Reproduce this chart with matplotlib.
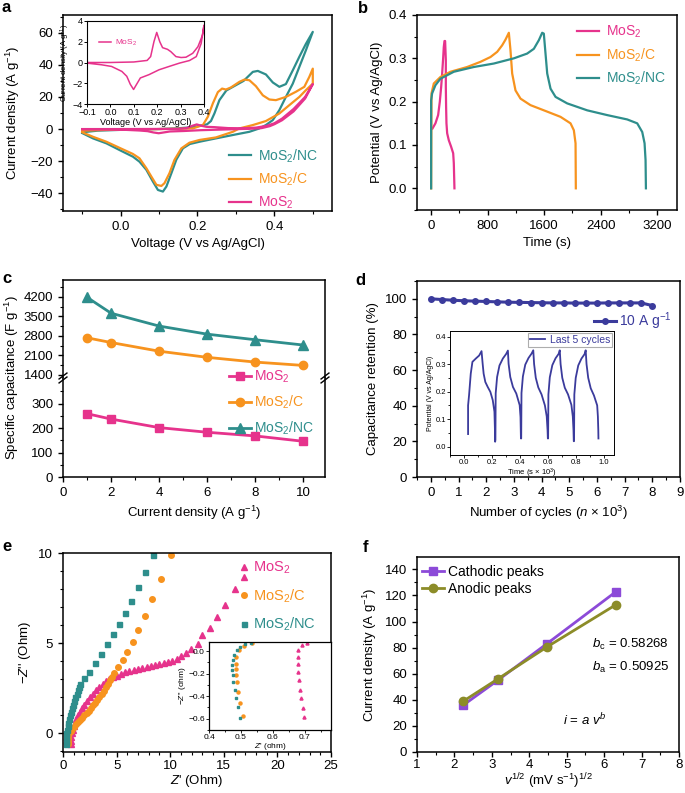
import matplotlib
matplotlib.use('Agg')
import matplotlib.pyplot as plt
from matplotlib.ticker import MultipleLocator, FixedLocator

plt.rcParams['font.family'] = ['Liberation Sans', 'DejaVu Sans']
plt.rcParams['mathtext.fontset'] = 'custom'
plt.rcParams['mathtext.rm'] = 'Liberation Sans'
plt.rcParams['mathtext.it'] = 'Liberation Sans:italic'
plt.rcParams['mathtext.bf'] = 'Liberation Sans:bold'
plt.rcParams['axes.linewidth'] = 1.1
plt.rcParams['xtick.major.size'] = 3.5
plt.rcParams['ytick.major.size'] = 3.5
plt.rcParams['xtick.minor.size'] = 2.0
plt.rcParams['ytick.minor.size'] = 2.0
plt.rcParams['xtick.major.width'] = 1.0
plt.rcParams['ytick.major.width'] = 1.0
plt.rcParams['xtick.minor.width'] = 0.8
plt.rcParams['ytick.minor.width'] = 0.8
plt.rcParams['xtick.labelsize'] = 9.5
plt.rcParams['ytick.labelsize'] = 9.5
plt.rcParams['axes.labelsize'] = 9.5

MAG = '#e6338c'
ORA = '#f7931e'
TEA = '#2e8e8c'
NAVY = '#3b3b9c'
PUR = '#8c4ad8'
OLI = '#8c8c28'

# ---------------- panel a: CV curves ----------------
cv_nc_an_v = [-0.10, -0.06, 0.0, 0.10, 0.15, 0.19, 0.205, 0.225, 0.235, 0.244, 0.257, 0.275, 0.29, 0.32, 0.344, 0.357, 0.378, 0.396, 0.413, 0.43, 0.448, 0.465, 0.482, 0.50]
cv_nc_an_i = [-2.0, -1.0, -0.5, 0.0, 0.5, 1.2, 2.0, 3.0, 5.0, 9.7, 18, 24, 26, 30, 35.6, 36.2, 34, 29, 26.3, 28, 36.6, 45, 53, 60.5]
cv_nc_ca_v = [0.50, 0.482, 0.465, 0.448, 0.43, 0.413, 0.396, 0.378, 0.361, 0.335, 0.292, 0.248, 0.205, 0.18, 0.162, 0.145, 0.132, 0.119, 0.11, 0.097, 0.084, 0.067, 0.049, 0.032, 0.0, -0.037, -0.072, -0.10]
cv_nc_ca_i = [60.5, 49, 38.7, 28.3, 20, 11.8, 5.6, 2.5, 0.4, -1.7, -3.7, -5.8, -7.9, -9.3, -12, -19, -27.5, -35.8, -38.9, -37.9, -32.7, -25.4, -20.3, -17.2, -13.4, -8.9, -5.8, -2.5]

cv_c_an_v = [-0.10, -0.05, 0.05, 0.15, 0.188, 0.214, 0.227, 0.24, 0.253, 0.264, 0.274, 0.287, 0.309, 0.322, 0.335, 0.352, 0.37, 0.387, 0.404, 0.43, 0.456, 0.478, 0.491, 0.50]
cv_c_an_i = [-1.0, -0.6, -0.2, 0.2, 0.4, 2.5, 7.7, 16, 23, 25.2, 24.6, 25.9, 29.4, 30.8, 30.4, 26.7, 21, 18.4, 18, 20, 23.2, 26.3, 32.5, 37.6]
cv_c_ca_v = [0.50, 0.50, 0.482, 0.465, 0.439, 0.413, 0.378, 0.344, 0.309, 0.292, 0.248, 0.205, 0.179, 0.158, 0.14, 0.127, 0.114, 0.106, 0.093, 0.08, 0.067, 0.049, 0.032, 0.0, -0.037, -0.072, -0.10]
cv_c_ca_i = [37.6, 28.3, 24.2, 20, 14.9, 9.7, 5.0, 2.5, 0.4, -1.7, -5.2, -6.8, -8.5, -12, -19.2, -27.5, -33.7, -35.4, -34.7, -29.6, -24.4, -18.2, -15.5, -12, -7.9, -4.8, -2.0]

cv_m_an_v = [-0.10, 0.0, 0.15, 0.172, 0.186, 0.198, 0.211, 0.223, 0.244, 0.28, 0.32, 0.352, 0.38, 0.40, 0.42, 0.45, 0.48, 0.50]
cv_m_an_i = [0.0, 0.0, 0.1, 0.6, 2.0, 2.9, 2.0, 1.4, 1.2, 0.6, 0.5, 0.9, 2.0, 3.6, 6.5, 12.5, 20, 28]
cv_m_ca_v = [0.50, 0.48, 0.45, 0.42, 0.40, 0.388, 0.367, 0.338, 0.295, 0.251, 0.208, 0.165, 0.128, 0.107, 0.099, 0.085, 0.07, 0.049, 0.005, -0.038, -0.10]
cv_m_ca_i = [28, 19, 11, 5.5, 3.0, 1.8, 0.6, 0.2, -0.1, -0.4, -0.7, -1.2, -1.5, -2.3, -2.6, -2.1, -1.3, -0.9, -0.4, -0.2, -0.1]

ins_a_an_v = [-0.10, 0.0, 0.1, 0.157, 0.172, 0.186, 0.198, 0.211, 0.223, 0.244, 0.258, 0.28, 0.302, 0.323, 0.352, 0.374, 0.393, 0.40]
ins_a_an_i = [0.0, 0.0, 0.05, 0.2, 0.57, 2.0, 2.9, 2.0, 1.43, 1.27, 1.05, 0.57, 0.48, 0.51, 0.89, 1.52, 2.6, 3.6]
ins_a_ca_v = [0.40, 0.388, 0.367, 0.338, 0.295, 0.251, 0.208, 0.165, 0.128, 0.107, 0.099, 0.085, 0.07, 0.049, 0.005, -0.038, -0.10]
ins_a_ca_i = [3.6, 1.84, 0.57, 0.19, -0.06, -0.38, -0.7, -1.17, -1.49, -2.29, -2.6, -2.1, -1.33, -0.86, -0.38, -0.22, -0.06]

# ---------------- panel b: GCD ----------------
gcd_m_t = [19, 61, 99, 123, 142, 156, 170, 179, 189, 198, 208, 208, 212, 217, 227, 250, 283, 312, 321, 330]
gcd_m_v = [0.138, 0.15, 0.169, 0.2, 0.234, 0.265, 0.3, 0.326, 0.34, 0.34, 0.296, 0.234, 0.188, 0.15, 0.127, 0.111, 0.096, 0.081, 0.058, 0.0]
gcd_c_t = [0, 5, 38, 132, 274, 510, 699, 840, 935, 1005, 1052, 1100, 1123, 1147, 1194, 1265, 1406, 1643, 1831, 1973, 2020, 2044, 2048]
gcd_c_v = [0, 0.219, 0.242, 0.257, 0.269, 0.28, 0.292, 0.303, 0.315, 0.33, 0.343, 0.359, 0.319, 0.265, 0.226, 0.207, 0.192, 0.177, 0.165, 0.15, 0.134, 0.104, 0]
gcd_nc_t = [0, 0, 14, 61, 132, 321, 604, 887, 1171, 1359, 1454, 1525, 1572, 1595, 1619, 1643, 1690, 1761, 1926, 2209, 2492, 2775, 2917, 2988, 3021, 3035, 3040]
gcd_nc_v = [0, 0.203, 0.219, 0.238, 0.253, 0.269, 0.28, 0.288, 0.3, 0.311, 0.322, 0.342, 0.359, 0.357, 0.311, 0.265, 0.23, 0.211, 0.196, 0.18, 0.169, 0.159, 0.15, 0.13, 0.104, 0.065, 0]

# ---------------- panel c: rate capability ----------------
cur_dens = [1, 2, 4, 6, 8, 10]
cap_m = [259, 237, 202, 183, 168, 146]
cap_c = [2730, 2560, 2250, 2030, 1860, 1740]
cap_nc = [4180, 3610, 3150, 2860, 2660, 2470]

# ---------------- panel d: cycling ----------------
cyc_n = [0.0, 0.4, 0.8, 1.2, 1.6, 2.0, 2.4, 2.8, 3.2, 3.6, 4.0, 4.4, 4.8, 5.2, 5.6, 6.0, 6.4, 6.8, 7.2, 7.6, 8.0]
cyc_ret = [100, 99.6, 99.2, 98.9, 98.7, 98.5, 98.3, 98.1, 98.0, 97.9, 97.8, 97.7, 97.7, 97.6, 97.6, 97.6, 97.7, 97.7, 97.7, 97.7, 96.2]
last5_t = [0.029, 0.029, 0.036, 0.048, 0.060, 0.084, 0.108, 0.125, 0.133, 0.140, 0.152, 0.169, 0.188, 0.205, 0.217, 0.220, 0.222,
           0.224, 0.226, 0.236, 0.253, 0.277, 0.301, 0.313, 0.318, 0.330, 0.349, 0.373, 0.397, 0.403, 0.406,
           0.408, 0.410, 0.420, 0.437, 0.460, 0.482, 0.494, 0.500, 0.512, 0.530, 0.553, 0.577, 0.590, 0.596, 0.598,
           0.600, 0.602, 0.612, 0.630, 0.653, 0.675, 0.683, 0.689, 0.701, 0.719, 0.742, 0.766, 0.776, 0.781, 0.783,
           0.785, 0.787, 0.797, 0.815, 0.838, 0.860, 0.868, 0.874, 0.886, 0.904, 0.927, 0.950, 0.955, 0.958, 0.959]
last5_v = [0.046, 0.15, 0.187, 0.265, 0.308, 0.32, 0.331, 0.347, 0.301, 0.265, 0.235, 0.217, 0.199, 0.169, 0.127, 0.072, 0.018,
           0.025, 0.194, 0.253, 0.295, 0.320, 0.337, 0.349, 0.301, 0.253, 0.217, 0.193, 0.151, 0.108, 0.030,
           0.03, 0.195, 0.255, 0.298, 0.322, 0.338, 0.35, 0.30, 0.25, 0.215, 0.19, 0.15, 0.11, 0.06, 0.03,
           0.03, 0.19, 0.252, 0.296, 0.321, 0.337, 0.35, 0.30, 0.25, 0.214, 0.19, 0.152, 0.11, 0.06, 0.02,
           0.02, 0.19, 0.25, 0.295, 0.32, 0.336, 0.35, 0.30, 0.25, 0.212, 0.186, 0.15, 0.11, 0.06, 0.03]

# ---------------- panel e: Nyquist ----------------
eis_m_x = [0.75, 0.75, 0.78, 0.82, 0.9, 1.0, 1.1, 1.25, 1.4, 1.6, 1.8, 2.0, 2.25, 2.5, 2.8, 3.1, 3.4, 3.7, 4.0, 4.3,
           4.65, 5.0, 5.4, 5.8, 6.2, 6.6, 7.0, 7.4, 7.8, 8.2, 8.6, 9.0, 9.4, 9.8, 10.2, 10.6, 11.0, 11.47, 11.94, 12.56,
           13.0, 13.75, 14.4, 15.1, 16.0, 16.84]
eis_m_y = [-0.6, -0.4, -0.2, 0.0, 0.2, 0.4, 0.6, 0.8, 1.0, 1.2, 1.4, 1.6, 1.8, 2.0, 2.2, 2.4, 2.58, 2.75, 2.9, 3.02,
           3.12, 3.2, 3.3, 3.4, 3.47, 3.53, 3.58, 3.63, 3.68, 3.72, 3.77, 3.82, 3.88, 3.95, 4.04, 4.15, 4.28, 4.44, 4.67, 4.98,
           5.43, 5.87, 6.43, 7.13, 8.02, 8.65]
eis_c_x = [0.45, 0.42, 0.42, 0.45, 0.55, 0.7, 0.85, 1.0, 1.2, 1.4, 1.6, 1.8, 2.0, 2.2, 2.4, 2.6, 2.8, 3.0, 3.2, 3.4, 3.6, 3.8,
           4.0, 4.2, 4.4, 4.6, 4.8, 5.16, 5.56, 6.0, 6.5, 7.03, 7.62, 8.34, 9.13, 10.1]
eis_c_y = [-0.6, -0.45, -0.3, -0.15, 0.0, 0.12, 0.25, 0.38, 0.5, 0.62, 0.75, 0.88, 1.0, 1.13, 1.27, 1.41, 1.55, 1.7, 1.86, 2.02, 2.18, 2.36,
           2.55, 2.75, 2.95, 3.15, 3.37, 3.67, 4.06, 4.5, 5.06, 5.72, 6.52, 7.43, 8.57, 9.9]
eis_nc_x = [0.27, 0.25, 0.25, 0.3, 0.35, 0.42, 0.5, 0.58, 0.66, 0.75, 0.84, 0.94, 1.04, 1.15, 1.26, 1.38, 1.5, 1.63,
            2.0, 2.41, 2.97, 3.5, 4.12, 4.69, 5.19, 5.78, 6.37, 7.0, 7.62, 8.44]
eis_nc_y = [-0.6, -0.4, -0.2, 0.0, 0.2, 0.4, 0.6, 0.8, 1.0, 1.2, 1.4, 1.6, 1.8, 2.0, 2.2, 2.4, 2.55, 2.72,
            3.06, 3.43, 3.93, 4.41, 4.94, 5.52, 6.09, 6.70, 7.35, 8.09, 8.93, 9.87]
ins_e_m_x = [0.707, 0.69, 0.68, 0.678, 0.678, 0.68, 0.682, 0.685, 0.688, 0.693, 0.698]
ins_e_m_y = [0.07, 0.05, 0.006, -0.053, -0.112, -0.185, -0.259, -0.347, -0.42, -0.509, -0.582]
ins_e_c_x = [0.535, 0.509, 0.493, 0.486, 0.483, 0.485, 0.485, 0.488, 0.491, 0.496, 0.505]
ins_e_c_y = [0.07, 0.041, 0.006, -0.053, -0.112, -0.156, -0.215, -0.274, -0.362, -0.465, -0.576]
ins_e_nc_x = [0.53, 0.514, 0.498, 0.488, 0.478, 0.474, 0.472, 0.472, 0.474, 0.475, 0.48, 0.486, 0.491, 0.498]
ins_e_nc_y = [0.07, 0.059, 0.035, 0.006, -0.038, -0.082, -0.126, -0.17, -0.215, -0.274, -0.347, -0.42, -0.494, -0.597]

# ---------------- panel f: b-value ----------------
sqrt_v = [2.24, 3.16, 4.47, 6.32]
i_cath = [36, 55, 83, 123]
i_anod = [39, 56, 80.5, 113]

W, H = 685, 793
fig = plt.figure(figsize=(W / 100, H / 100), dpi=100)


def px_axes(x0, y0, x1, y1):
    return fig.add_axes([x0 / W, 1 - y1 / H, (x1 - x0) / W, (y1 - y0) / H])


def style(ax, size=9.5):
    ax.tick_params(which='both', direction='out', labelsize=size)
    ax.tick_params(which='both', top=False, right=False)


def m2(s):
    return s.replace('MoS2', r'MoS$_2$')

# ===== a =====
ax = px_axes(63, 15, 332, 211)
ax.plot(cv_nc_an_v + cv_nc_ca_v, cv_nc_an_i + cv_nc_ca_i, color=TEA, lw=1.6, label=m2('MoS2/NC'))
ax.plot(cv_c_an_v + cv_c_ca_v, cv_c_an_i + cv_c_ca_i, color=ORA, lw=1.6, label=m2('MoS2/C'))
ax.plot(cv_m_an_v + cv_m_ca_v, cv_m_an_i + cv_m_ca_i, color=MAG, lw=1.6, label=m2('MoS2'))
ax.set_xlim(-0.15, 0.55)
ax.set_ylim(-51, 71)
ax.xaxis.set_major_locator(FixedLocator([0.0, 0.2, 0.4]))
ax.xaxis.set_minor_locator(MultipleLocator(0.1))
ax.yaxis.set_major_locator(MultipleLocator(20))
ax.yaxis.set_minor_locator(MultipleLocator(10))
ax.set_xticklabels(['0.0', '0.2', '0.4'])
style(ax)
ax.set_xlabel('Voltage (V vs Ag/AgCl)')
ax.set_ylabel(r'Current density (A g$^{-1}$)', labelpad=6)
ax.legend(loc='lower left', bbox_to_anchor=(0.617, 0.0), frameon=False, fontsize=10,
          handlelength=1.6, handletextpad=0.5, labelspacing=0.45, borderpad=0, borderaxespad=0,
          labelcolor='linecolor')

axi = px_axes(87, 21, 204, 104)
axi.plot(ins_a_an_v + ins_a_ca_v, ins_a_an_i + ins_a_ca_i, color=MAG, lw=1.1, label=m2('MoS2'))
axi.set_xlim(-0.1, 0.4)
axi.set_ylim(-4, 4)
axi.xaxis.set_major_locator(MultipleLocator(0.1))
axi.yaxis.set_major_locator(MultipleLocator(2))
axi.tick_params(which='both', direction='out', labelsize=6.5, length=2, width=0.7, pad=1)
axi.set_xlabel('Voltage (V vs Ag/AgCl)', fontsize=6.5, labelpad=0.5)
axi.set_ylabel(r'Current density (A g$^{-1}$)', fontsize=5.5, labelpad=0.5)
for s in axi.spines.values():
    s.set_linewidth(0.8)
axi.legend(loc='center left', bbox_to_anchor=(0.1, 0.74), frameon=False, fontsize=6,
           handlelength=1.5, handletextpad=0.5, borderpad=0, borderaxespad=0, labelcolor='linecolor')

# ===== b =====
ax = px_axes(417, 15, 677, 210)
ax.plot(gcd_m_t, gcd_m_v, color=MAG, lw=1.6, label=m2('MoS2'))
ax.plot(gcd_c_t, gcd_c_v, color=ORA, lw=1.6, label=m2('MoS2/C'))
ax.plot(gcd_nc_t, gcd_nc_v, color=TEA, lw=1.6, label=m2('MoS2/NC'))
ax.set_xlim(-200, 3480)
ax.set_ylim(-0.05, 0.4)
ax.xaxis.set_major_locator(MultipleLocator(800))
ax.xaxis.set_minor_locator(MultipleLocator(400))
ax.yaxis.set_major_locator(MultipleLocator(0.1))
ax.yaxis.set_minor_locator(MultipleLocator(0.05))
style(ax)
ax.set_xlabel('Time (s)')
ax.set_ylabel('Potential (V vs Ag/AgCl)')
ax.legend(loc='upper left', bbox_to_anchor=(0.615, 0.955), frameon=False, fontsize=10,
          handlelength=1.6, handletextpad=0.5, labelspacing=0.45, borderpad=0, borderaxespad=0,
          labelcolor='linecolor')

# ===== c =====
axt = px_axes(63, 280, 325, 378)
axb = px_axes(63, 378, 325, 477)
for a_ in (axt, axb):
    a_.plot(cur_dens, cap_m, color=MAG, lw=2, marker='s', ms=6, label=m2('MoS2'))
    a_.plot(cur_dens, cap_c, color=ORA, lw=2, marker='o', ms=6, label=m2('MoS2/C'))
    a_.plot(cur_dens, cap_nc, color=TEA, lw=2, marker='^', ms=6.5, label=m2('MoS2/NC'))
    a_.set_xlim(0, 10.9)
    style(a_)
axt.set_ylim(1290, 4800)
axb.set_ylim(0, 405)
axt.spines['bottom'].set_visible(False)
axb.spines['top'].set_visible(False)
axt.tick_params(axis='x', which='both', bottom=False, labelbottom=False)
axt.yaxis.set_major_locator(FixedLocator([1400, 2100, 2800, 3500, 4200]))
axt.yaxis.set_minor_locator(FixedLocator([1750, 2450, 3150, 3850, 4550]))
axb.yaxis.set_major_locator(FixedLocator([0, 100, 200, 300]))
axb.yaxis.set_minor_locator(FixedLocator([50, 150, 250, 350]))
axb.xaxis.set_major_locator(MultipleLocator(2))
axb.xaxis.set_minor_locator(MultipleLocator(1))
axb.set_xlabel(r'Current density (A g$^{-1}$)')
fig.text(12 / W, 1 - 378 / H, r'Specific capacitance (F g$^{-1}$)', rotation=90,
         ha='center', va='center', fontsize=9.5)
for xs in (0, 1):
    for dy in (-0.02, 0.02):
        axb.plot([xs - 0.015, xs + 0.015], [1 + dy - 0.03, 1 + dy + 0.03], transform=axb.transAxes,
                 color='k', lw=1, clip_on=False)
axb.legend(loc='upper left', bbox_to_anchor=(0.634, 1.09), frameon=False, fontsize=10,
           handlelength=1.6, handletextpad=0.2, labelspacing=0.6, borderpad=0, borderaxespad=0,
           labelcolor='linecolor')

# ===== d =====
ax = px_axes(417, 281, 680, 477)
ax.plot(cyc_n, cyc_ret, color=NAVY, lw=2.2, marker='o', ms=4, label=r'10 A g$^{-1}$')
ax.set_xlim(-0.5, 9)
ax.set_ylim(0, 110)
ax.xaxis.set_major_locator(MultipleLocator(1))
ax.xaxis.set_minor_locator(MultipleLocator(0.5))
ax.yaxis.set_major_locator(MultipleLocator(20))
ax.yaxis.set_minor_locator(MultipleLocator(10))
style(ax)
ax.set_xlabel(r'Number of cycles ($n$ × 10$^3$)')
ax.set_ylabel('Capacitance retention (%)')
ax.legend(loc='center left', bbox_to_anchor=(0.672, 0.796), frameon=False, fontsize=10,
          handlelength=1.6, handletextpad=0.25, borderpad=0, borderaxespad=0, labelcolor='linecolor')

axi = px_axes(450, 331, 614, 455)
axi.plot(last5_t, last5_v, color=NAVY, lw=1.3, label='Last 5 cycles')
axi.set_xlim(-0.1, 1.07)
axi.set_ylim(-0.03, 0.42)
axi.xaxis.set_major_locator(MultipleLocator(0.2))
axi.xaxis.set_minor_locator(MultipleLocator(0.1))
axi.yaxis.set_major_locator(MultipleLocator(0.1))
axi.yaxis.set_minor_locator(MultipleLocator(0.05))
axi.tick_params(which='both', direction='out', labelsize=5.5, length=2, width=0.6, pad=1)
axi.tick_params(which='minor', length=1.2)
axi.set_xlabel(r'Time (s × 10$^3$)', fontsize=5.5, labelpad=0.5)
axi.set_ylabel('Potential (V vs Ag/AgCl)', fontsize=5, labelpad=1)
for s in axi.spines.values():
    s.set_linewidth(0.7)
leg = axi.legend(loc='upper right', bbox_to_anchor=(1.0, 1.0), fontsize=7.5, fancybox=False,
                 handlelength=1.4, handletextpad=0.5, borderpad=0.2, borderaxespad=0.15,
                 labelcolor='linecolor', edgecolor='#999999')
leg.get_frame().set_linewidth(0.8)

# ===== e =====
ax = px_axes(63, 553, 331, 752)
ax.plot(eis_m_x, eis_m_y, ls='none', marker='^', ms=4.2, color=MAG, label=m2('MoS2'))
ax.plot(eis_c_x, eis_c_y, ls='none', marker='o', ms=4.0, color=ORA, label=m2('MoS2/C'))
ax.plot(eis_nc_x, eis_nc_y, ls='none', marker='s', ms=3.6, color=TEA, label=m2('MoS2/NC'))
ax.set_xlim(0, 25)
ax.set_ylim(-1.03, 10)
ax.xaxis.set_major_locator(MultipleLocator(5))
ax.xaxis.set_minor_locator(MultipleLocator(1))
ax.yaxis.set_major_locator(MultipleLocator(5))
ax.yaxis.set_minor_locator(MultipleLocator(1))
style(ax)
ax.tick_params(axis='x', which='both', pad=2)
ax.set_xlabel(r"$Z$' (Ohm)", labelpad=1)
ax.set_ylabel(r"$-Z$'' (Ohm)")
ax.legend(loc='upper left', bbox_to_anchor=(0.655, 0.965), frameon=False, fontsize=10.5,
          handlelength=0.8, handletextpad=0.2, labelspacing=0.75, borderpad=0, borderaxespad=0,
          labelcolor='linecolor')

axi = px_axes(209, 642, 331, 730)
axi.plot(ins_e_m_x, ins_e_m_y, ls='none', marker='^', ms=2.2, color=MAG)
axi.plot(ins_e_c_x, ins_e_c_y, ls='none', marker='o', ms=2.2, color=ORA)
axi.plot(ins_e_nc_x, ins_e_nc_y, ls='none', marker='s', ms=2.0, color=TEA)
axi.set_xlim(0.4, 0.782)
axi.set_ylim(-0.7, 0.08)
axi.xaxis.set_major_locator(MultipleLocator(0.1))
axi.xaxis.set_minor_locator(MultipleLocator(0.05))
axi.yaxis.set_major_locator(MultipleLocator(0.2))
axi.yaxis.set_minor_locator(MultipleLocator(0.1))
axi.tick_params(which='both', direction='out', labelsize=6, length=2, width=0.6, pad=1)
axi.tick_params(which='minor', length=1.2)
axi.set_xlabel(r"$Z$' (ohm)", fontsize=6, labelpad=0)
axi.set_ylabel(r"$-Z$'' (ohm)", fontsize=6, labelpad=0)
for s in axi.spines.values():
    s.set_linewidth(0.9)

# ===== f =====
ax = px_axes(417, 557, 679, 752)
ax.plot(sqrt_v, i_cath, color=PUR, lw=2, marker='s', ms=6, label='Cathodic peaks')
ax.plot(sqrt_v, i_anod, color=OLI, lw=2, marker='o', ms=6, label='Anodic peaks')
ax.set_xlim(1, 8)
ax.set_ylim(0, 149.5)
ax.xaxis.set_major_locator(MultipleLocator(1))
ax.xaxis.set_minor_locator(MultipleLocator(0.5))
ax.yaxis.set_major_locator(MultipleLocator(20))
ax.yaxis.set_minor_locator(MultipleLocator(10))
style(ax)
ax.tick_params(axis='x', which='both', pad=1.5)
ax.set_xlabel(r'$v^{1/2}$ (mV s$^{-1}$)$^{1/2}$', labelpad=0)
ax.set_ylabel(r'Current density (A g$^{-1}$)')
ax.legend(loc='upper left', bbox_to_anchor=(0.019, 0.96), frameon=False, fontsize=10,
          handlelength=1.6, handletextpad=0.3, labelspacing=0.25, borderpad=0, borderaxespad=0)
ax.text(0.668, 0.549, r'$b_\mathrm{c}$ = 0.58268', transform=ax.transAxes, fontsize=9.5, va='center')
ax.text(0.668, 0.436, r'$b_\mathrm{a}$ = 0.50925', transform=ax.transAxes, fontsize=9.5, va='center')
ax.text(0.557, 0.164, r'$i$ = $a$ $v^b$', transform=ax.transAxes, fontsize=9.5, va='center')

# panel letters
for lab, x, y in [('a', 2, 12), ('b', 358, 13), ('c', 2, 283), ('d', 355, 285), ('e', 2, 551), ('f', 363, 552)]:
    fig.text(x / W, 1 - y / H, lab, fontsize=12, fontweight='bold', va='baseline', ha='left')

fig.savefig('out.png', dpi=100)
